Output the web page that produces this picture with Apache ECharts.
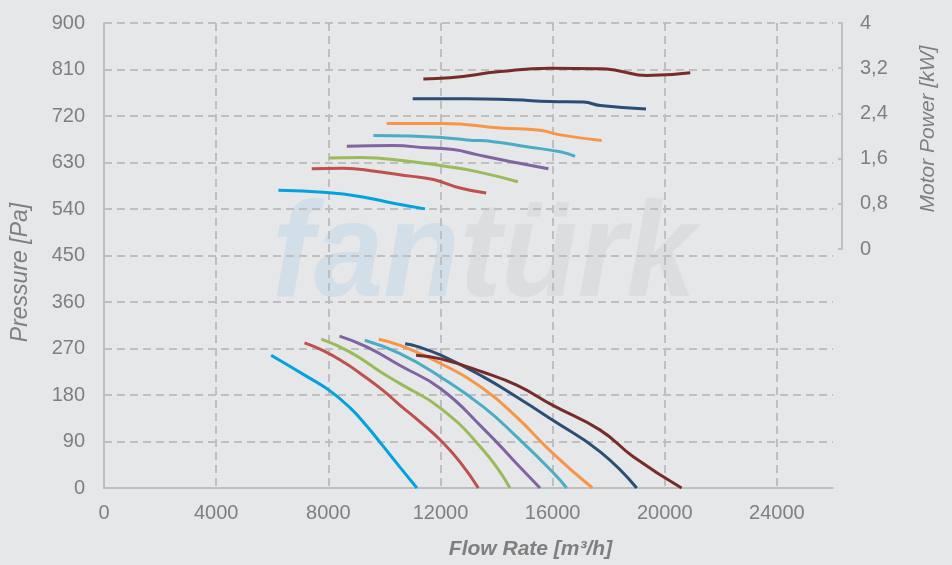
<!DOCTYPE html>
<html>
<head>
<meta charset="utf-8">
<title>Fan curves</title>
<script src="https://cdn.jsdelivr.net/npm/echarts@6/dist/echarts.min.js"></script>
<style>
  html, body { margin: 0; padding: 0; background: #e6e7e9; }
  #chart { width: 952px; height: 565px; }
</style>
</head>
<body>
<div id="chart"></div>
<script>
// flow [m3/h], pressure [Pa]
const bluePa = [[5960, 257], [7230, 216], [8060, 188], [8780, 155], [9370, 120], [9970, 80], [10560, 40], [11160, 0]];
const redPa = [[7150, 281], [7820, 266], [8600, 242], [9130, 222], [9970, 188], [10560, 160], [11270, 128], [12010, 92], [12700, 50], [13350, 0]];
const greenPa = [[7750, 288], [8780, 263], [9970, 221], [10560, 202], [12010, 154], [13530, 73], [14480, 0]];
const purplePa = [[8400, 294], [9370, 273], [10560, 237], [12010, 192], [13530, 115], [14720, 47], [15550, 0]];
const tealPa = [[9300, 286], [10560, 260], [12000, 215], [13530, 157], [14720, 99], [16000, 31], [16500, 0]];
const orangePa = [[9800, 288], [10560, 276], [12010, 241], [13530, 192], [14720, 137], [16010, 67], [17420, 0]];
const navyPa = [[10740, 279], [11160, 274], [12010, 257], [13530, 215], [14720, 176], [16010, 131], [17700, 70], [19000, 0]];
const maroonPa = [[11130, 257], [12010, 250], [13530, 224], [14720, 199], [16010, 160], [17700, 112], [18890, 60], [20600, 0]];

// flow [m3/h], motor power [kW]
const blueKw = [[6220, 1.04], [7940, 1.00], [9130, 0.93], [10320, 0.81], [11450, 0.71]];
const redKw = [[7410, 1.42], [8540, 1.43], [9730, 1.37], [10920, 1.29], [11750, 1.23], [12700, 1.08], [13630, 0.99]];
const greenKw = [[8030, 1.61], [9130, 1.62], [10920, 1.55], [12110, 1.47], [13300, 1.37], [14760, 1.19]];
const purpleKw = [[8660, 1.82], [10320, 1.83], [11510, 1.79], [12460, 1.76], [13300, 1.67], [14480, 1.55], [15850, 1.42]];
const tealKw = [[9610, 2.01], [10920, 2.00], [12110, 1.97], [12940, 1.93], [13890, 1.90], [15080, 1.81], [16270, 1.72], [16800, 1.64]];
const orangeKw = [[10080, 2.22], [12100, 2.22], [14130, 2.14], [15550, 2.10], [16270, 2.02], [17750, 1.92]];
const navyKw = [[11010, 2.66], [12940, 2.66], [14600, 2.64], [15910, 2.61], [17100, 2.60], [17700, 2.54], [19330, 2.48]];
const maroonKw = [[11390, 3.01], [12340, 3.03], [14130, 3.14], [15910, 3.20], [17700, 3.19], [18290, 3.16], [19360, 3.07], [20910, 3.12]];

const colors = ["#00a3e0", "#c0504d", "#9bbb59", "#8064a2", "#4bacc6", "#f79646", "#2c4d75", "#772c2a"];
const paCurves = [bluePa, redPa, greenPa, purplePa, tealPa, orangePa, navyPa, maroonPa];
const kwCurves = [blueKw, redKw, greenKw, purpleKw, tealKw, orangeKw, navyKw, maroonKw];

const gray = "#7f7f7f";
const lineGray = "#bfbfbf";
const font = "Liberation Sans";

const chart = echarts.init(document.getElementById("chart"));

function curve(data, i, axis) {
  return {
    type: "line",
    data: data,
    xAxisIndex: axis,
    yAxisIndex: axis,
    smooth: 0.5,
    showSymbol: false,
    symbol: "none",
    lineStyle: { color: colors[i], width: 3 },
    z: 3,
  };
}

const series = [];
paCurves.forEach((d, i) => series.push(curve(d, i, 0)));
kwCurves.forEach((d, i) => series.push(curve(d, i, 1)));

const option = {
  backgroundColor: "#e6e7e9",
  animation: false,
  textStyle: { fontFamily: font },
  graphic: [
    {
      // watermark
      type: "text",
      left: 272,
      top: 190,
      scaleX: 0.92,
      z: -10,
      style: {
        text: "{a|fan}{b|türk}",
        rich: {
          a: { fill: "#d2dfe8", fontSize: 136, fontWeight: "bold", fontStyle: "italic", fontFamily: font },
          b: { fill: "#dcdddf", fontSize: 136, fontWeight: "bold", fontStyle: "italic", fontFamily: font },
        },
      },
    },
  ],
  grid: [
    { left: 104, right: 119, top: 23, bottom: 77, containLabel: false },
    { left: 104, right: 119, top: 23, height: 226, containLabel: false },
  ],
  xAxis: [
    {
      type: "value",
      gridIndex: 0,
      min: 0,
      max: 26000,
      interval: 4000,
      name: "Flow Rate [m³/h]",
      nameLocation: "middle",
      nameGap: 51,
      nameTextStyle: {
        color: gray,
        fontSize: 21,
        fontWeight: "bold",
        fontStyle: "italic",
        padding: [0, 0, 0, 124],
      },
      axisLine: { lineStyle: { color: lineGray, width: 2 } },
      axisTick: { show: false },
      axisLabel: {
        color: gray,
        fontSize: 20,
        margin: 15,
        formatter: (v) => (v % 4000 === 0 ? String(v) : ""),
      },
      splitLine: { showMaxLine: false, lineStyle: { color: lineGray, width: 2, type: [8, 5] } },
    },
    {
      type: "value",
      gridIndex: 1,
      min: 0,
      max: 26000,
      show: false,
    },
  ],
  yAxis: [
    {
      type: "value",
      gridIndex: 0,
      min: 0,
      max: 900,
      interval: 90,
      name: "Pressure [Pa]",
      nameLocation: "middle",
      nameRotate: 90,
      nameGap: 72,
      nameTextStyle: { color: gray, fontSize: 23, fontStyle: "italic", padding: [0, 34, 0, 0] },
      axisLine: { show: true, lineStyle: { color: lineGray, width: 2 } },
      axisTick: { show: false },
      axisLabel: { color: gray, fontSize: 20, margin: 19 },
      splitLine: { lineStyle: { color: lineGray, width: 2, type: [8, 5] } },
    },
    {
      type: "value",
      gridIndex: 1,
      position: "right",
      offset: 9,
      min: 0,
      max: 4,
      interval: 0.8,
      name: "Motor Power [kW]",
      nameLocation: "middle",
      nameRotate: 90,
      nameGap: 76,
      nameTextStyle: { color: gray, fontSize: 21, fontStyle: "italic", padding: [0, 0, 0, 14] },
      axisLine: { show: true, onZero: false, lineStyle: { color: lineGray, width: 2 } },
      axisTick: { show: true, inside: true, length: 4, lineStyle: { color: lineGray, width: 2 } },
      axisLabel: {
        color: gray,
        fontSize: 20,
        margin: 18,
        formatter: (v) => String(Math.round(v * 10) / 10).replace(".", ","),
      },
      splitLine: { show: false },
    },
  ],
  series: series,
};

chart.setOption(option);
</script>
</body>
</html>
